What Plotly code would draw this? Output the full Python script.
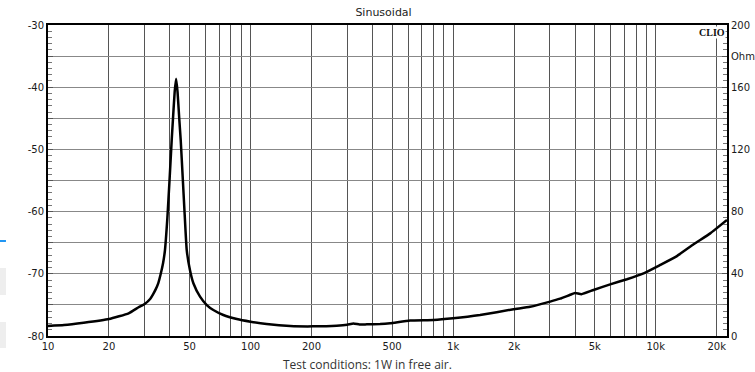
import plotly.graph_objects as go

# Impedance curve (Hz, Ohm)
freq_hz = [10, 12, 15, 20, 25, 28, 30, 32, 33, 34, 35, 36, 37, 37.8, 38.8, 39.8, 40.8, 41.5, 42.2,
           42.9, 43.6, 44.5, 45.2, 46.2, 47.2, 48.4, 50.2, 52.2, 56.3, 60.8, 65.5, 73.4, 85.5, 100,
           120, 157, 203, 266, 300, 322, 345, 375, 436, 489, 613, 800, 1000, 1358, 1986, 2400,
           3013, 3372, 3783, 4000, 4300, 4932, 5960, 7210, 8710, 10520, 12730, 15390, 18590, 22490]
impedance_ohm = [6.4, 7.0, 8.5, 10.9, 14.6, 18.5, 20.6, 24.0, 26.8, 30.0, 33.9, 39.9, 47, 55.3, 75,
                 100, 126, 142, 157, 165.5, 157, 138.9, 126, 103, 80, 55.3, 42.4, 33.9, 25.3, 19.9,
                 16.7, 13.5, 10.9, 9.2, 7.7, 6.4, 6.2, 6.6, 7.2, 8.0, 7.4, 7.5, 7.7, 8.2, 9.9, 10.3,
                 11.4, 13.5, 17.2, 18.8, 22.1, 24.0, 26.5, 27.6, 26.9, 29.6, 33.2, 36.5, 40.3, 45.7,
                 51.4, 59.0, 66.0, 74.6]

# Axis ticks
x_grid = [d * m for m in (10, 100, 1000) for d in range(1, 10)] + [10000, 20000]
x_labels = {10: "10", 20: "20", 50: "50", 100: "100", 200: "200", 500: "500", 1000: "1k",
            2000: "2k", 5000: "5k", 10000: "10k", 20000: "20k"}
x_text = [x_labels.get(v, "") for v in x_grid]
y_left_vals = list(range(-80, -25, 5))
y_left_text = [str(v) if v % 10 == 0 else "" for v in y_left_vals]
y_right_vals = [0, 40, 80, 120, 160, 180, 200]
y_right_text = ["0", "40", "80", "120", "160", "Ohm", "200"]

tick_font = dict(family="DejaVu Sans, Arial, sans-serif", size=10, color="#1a1a1a")

fig = go.Figure()
fig.add_trace(go.Scatter(x=[], y=[], xaxis="x", yaxis="y", showlegend=False, hoverinfo="skip"))
fig.add_trace(go.Scatter(x=freq_hz, y=impedance_ohm, xaxis="x", yaxis="y2", mode="lines",
                         line=dict(color="black", width=2.5, shape="spline", smoothing=0.4),
                         showlegend=False))

fig.update_layout(
    width=755, height=372,
    margin=dict(l=48, r=28, t=25, b=36, autoexpand=False),
    paper_bgcolor="white", plot_bgcolor="white",
    title=dict(text="Sinusoidal", x=0.508, xanchor="center", y=0.968, yanchor="middle",
               font=dict(family="DejaVu Sans, Arial, sans-serif", size=11, color="#222")),
    xaxis=dict(type="log", range=[1, 4.352], tickvals=x_grid, ticktext=x_text,
               showgrid=True, gridcolor="#555555", gridwidth=1.2, ticks="",
               showline=True, linecolor="black", linewidth=2, mirror=True,
               tickfont=tick_font, zeroline=False, automargin=False),
    yaxis=dict(range=[-80, -30], tickvals=y_left_vals, ticktext=y_left_text,
               showgrid=True, gridcolor="#888888", gridwidth=1.2,
               ticks="inside", ticklen=5, tickcolor="#555",
               minor=dict(ticks="inside", dtick=1, ticklen=4, tickcolor="#777", showgrid=False),
               showline=True, linecolor="black", linewidth=2,
               tickfont=tick_font, zeroline=False, automargin=False),
    yaxis2=dict(range=[0, 200], overlaying="y", side="right", tickvals=y_right_vals,
                ticktext=y_right_text, showgrid=False, ticks="inside", ticklen=5, tickcolor="#555",
                minor=dict(ticks="inside", dtick=4, ticklen=4, tickcolor="#777"),
                showline=True, linecolor="black", linewidth=2,
                tickfont=tick_font, zeroline=False, automargin=False),
)

fig.add_annotation(x=1450, y=-80, xref="x", yref="y", text="Hz", showarrow=False,
                   yanchor="top", yshift=-2, font=tick_font)
fig.add_annotation(x=1, y=1, xref="paper", yref="paper", text="<b>CLIO</b>", showarrow=False,
                   xanchor="right", yanchor="top", xshift=-1, yshift=-1, bgcolor="white",
                   borderpad=0,
                   font=dict(family="Liberation Serif, Times New Roman, serif", size=10, color="#111"))
fig.add_annotation(x=0.471, y=-0.058, xref="paper", yref="paper",
                   text="Test conditions: 1W in free air.", showarrow=False,
                   xanchor="center", yanchor="top",
                   font=dict(family="Open Sans, sans-serif", size=12, color="#333"))

# page artifacts at left edge
fig.add_shape(type="line", xref="paper", yref="paper", x0=-0.0707, x1=-0.0619, y0=0.3055, y1=0.3055,
              line=dict(color="#2196f3", width=2))
fig.add_shape(type="rect", xref="paper", yref="paper", x0=-0.0707, x1=-0.0619, y0=0.1318, y1=0.2186,
              line=dict(width=0), fillcolor="#eeeeee")
fig.add_shape(type="rect", xref="paper", yref="paper", x0=-0.0707, x1=-0.0619, y0=-0.0386, y1=0.045,
              line=dict(width=0), fillcolor="#eeeeee")

fig.write_html("out.html", config={"displayModeBar": False},
               post_script="document.body.style.margin='0';document.body.style.overflow='hidden';")
